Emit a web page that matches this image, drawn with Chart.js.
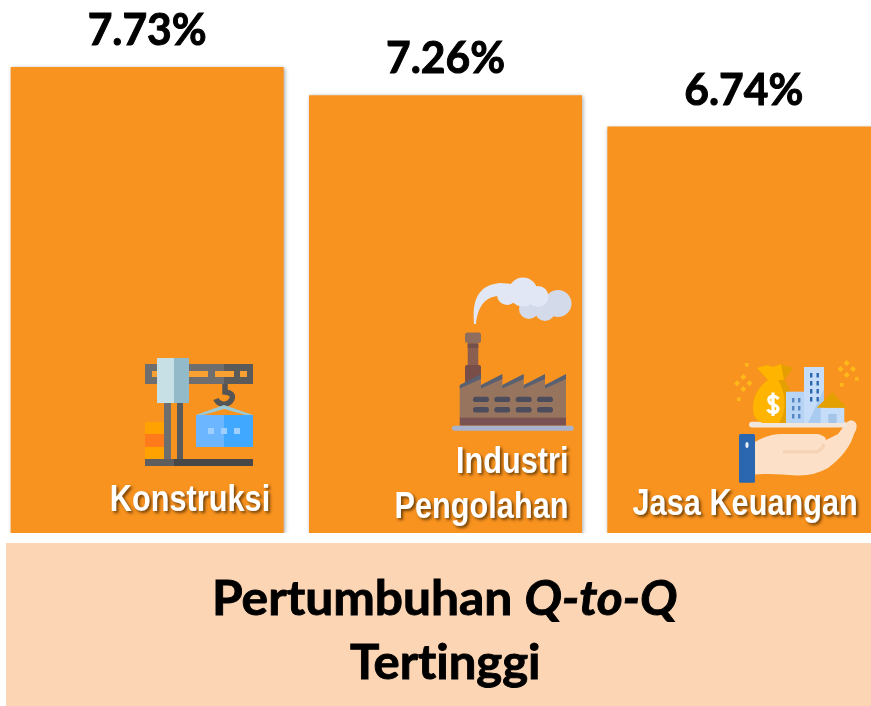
<!DOCTYPE html>
<html>
<head>
<meta charset="utf-8">
<script src="https://cdn.jsdelivr.net/npm/chart.js@4"></script>
<style>
  html, body { margin: 0; padding: 0; background: #fff; width: 871px; height: 706px; overflow: hidden; }
  #chart { position: absolute; left: -2px; top: 0; }
  #icons { position: absolute; left: 0; top: 0; }
  #band { position: absolute; left: 6px; top: 543px; width: 865px; height: 163px; background: #FCD5B5; }
  .line { position: absolute; left: 0; width: 890px; text-align: center; color: #000;
          font: 700 48px/60px Lato, "Open Sans", sans-serif; white-space: nowrap;
          font-variant-ligatures: none; -webkit-text-stroke: 0.9px #000; }
  .line span.fit { display: inline-block; transform-origin: center; }
</style>
</head>
<body>
<canvas id="chart" width="895" height="543"></canvas>

<!-- Decorative icons sitting on the bars -->
<svg id="icons" width="871" height="706" viewBox="0 0 871 706">
  <!-- crane -->
  <g>
    <rect x="145" y="422" width="19" height="13" fill="#FFA200"/>
    <rect x="145" y="434" width="19" height="13" fill="#FF7A1A"/>
    <rect x="145" y="447" width="19" height="12" fill="#FFA200"/>
    <rect x="164" y="400" width="7" height="60" fill="#6E6E6E"/>
    <rect x="177" y="400" width="6" height="60" fill="#5A5A5A"/>
    <rect x="145" y="364" width="79" height="20" fill="#6E6E6E"/>
    <rect x="224" y="364" width="29" height="20" fill="#5A5A5A"/>
    <rect x="152" y="371" width="6" height="6" fill="#F9A033"/>
    <rect x="189" y="371" width="19" height="6" fill="#F9A033"/>
    <rect x="215" y="371" width="19" height="6" fill="#F9A033"/>
    <rect x="240" y="371" width="7" height="6" fill="#F9A033"/>
    <rect x="157" y="358" width="17" height="45" fill="#C6E0E6"/>
    <rect x="174" y="358" width="15" height="45" fill="#93BAC8"/>
    <rect x="145" y="459" width="29" height="7" fill="#5E5E5E"/>
    <rect x="174" y="459" width="79" height="7" fill="#474747"/>
    <path d="M225 384V392Q234 393 232 399Q229 405 222 404Q217.5 403 216 399" fill="none" stroke="#555" stroke-width="5.5"/>
    <path d="M196 415L224 405L253 415L246 415L224 409L203 415Z" fill="#9CC9D6"/>
    <rect x="196" y="415" width="28" height="32" fill="#6CB6FF"/>
    <rect x="224" y="415" width="29" height="32" fill="#40A9FF"/>
    <rect x="208" y="428" width="6" height="6" fill="#9ECFFF"/>
    <rect x="221" y="428" width="6" height="6" fill="#9ECFFF"/>
    <rect x="234" y="428" width="6" height="6" fill="#9ECFFF"/>
  </g>
  <!-- factory -->
  <g>
    <path d="M474 324C472 300 478 285 500 283L512 284L507 297C490 293 478 302 476 324Z" fill="#E1E7F4"/>
    <circle cx="558" cy="303.5" r="13.5" fill="#D3DAEA"/>
    <circle cx="545" cy="311" r="10" fill="#D3DAEA"/>
    <circle cx="529" cy="309" r="10" fill="#D3DAEA"/>
    <circle cx="507" cy="295" r="10" fill="#E1E7F4"/>
    <circle cx="523" cy="292" r="14.5" fill="#E1E7F4"/>
    <circle cx="538" cy="296.5" r="10.5" fill="#E1E7F4"/>
    <rect x="467.7" y="342" width="10.6" height="24" fill="#8A5F50"/>
    <rect x="467.7" y="344" width="10.6" height="4" fill="#74504A"/>
    <rect x="465" y="365" width="16" height="18" rx="2" fill="#7A4E48"/>
    <rect x="465" y="332.5" width="16" height="10.5" rx="2.5" fill="#8F6E5E"/>
    <path d="M459.7 387L481 375.5V387L502.3 375.5V387L523.7 375.5V387L545 375.5V387L566 375.5V418H459.7Z" fill="#96745E"/>
    <path d="M459.7 385L481 374V379L459.7 388.5ZM481 385L502.3 374V379L481 388.5ZM502.3 385L523.7 374V379L502.3 388.5ZM523.7 385L545 374V379L523.7 388.5ZM545 385L566 374V379L545 388.5Z" fill="#5A6070"/>
    <rect x="459.7" y="417.7" width="106.3" height="8" fill="#7A5252"/>
    <rect x="452" y="425.7" width="121.7" height="5" rx="2.5" fill="#A8B2CC"/>
    <g fill="#4C4C5C">
      <rect x="473" y="396.7" width="16" height="5.4" rx="2.7"/><rect x="494.3" y="396.7" width="16" height="5.4" rx="2.7"/>
      <rect x="515.7" y="396.7" width="16" height="5.4" rx="2.7"/><rect x="537" y="396.7" width="16" height="5.4" rx="2.7"/>
      <rect x="473" y="407" width="16" height="5.6" rx="2.8"/><rect x="494.3" y="407" width="16" height="5.6" rx="2.8"/>
      <rect x="515.7" y="407" width="16" height="5.6" rx="2.8"/><rect x="537" y="407" width="16" height="5.6" rx="2.8"/>
    </g>
  </g>
  <!-- hand with money and buildings -->
  <g>
    <path d="M755 442Q768 434 782 434H818Q826 436 826 440L838 434L847 422Q852 418 856 423Q858 428 854 434Q849 452 828 468Q814 476 797 475.5Q772 473 755 474.5Z" fill="#FDE0C8"/>
    <path d="M783 451.7H817Q822 450 824 444" fill="none" stroke="#F5D3B6" stroke-width="3.5"/>
    <rect x="739" y="434" width="16" height="48.7" rx="1.5" fill="#2B66B1"/>
    <ellipse cx="747" cy="445" rx="1.6" ry="3" fill="#E8EEF6"/>
    <rect x="749" y="421.7" width="97.7" height="5.8" rx="2.9" fill="#F0E6DC"/>
    <path d="M757 368L767 365L773 367L781 364L793 368L784 380C792 390 795 408 790 423H763Q752 420 753 406C754 394 760 386 768 380Z" fill="#E3A000"/>
    <path d="M757 368L767 365L773 367L781 364L784 380H768ZM768 380C760 386 754 394 753 406Q752 420 763 423H779C787 412 786 392 778 380Z" fill="#FFB400"/>
    <path d="M778.5 399Q776 396 772.5 396Q768 397 769 401Q770 404 773 404.5Q778 406 778 409Q777 413 772.5 412.5Q769 412 767.5 409.5M773 392.5V416" fill="none" stroke="#fff" stroke-width="3.2"/>
    <rect x="804" y="367" width="20" height="56" fill="#C5DDF8"/>
    <path d="M824 389V423H808Z" fill="#A9CBEF"/>
    <rect x="786" y="391.7" width="18" height="31.3" fill="#B8D4F5"/>
    <g fill="#2B66B1">
      <rect x="810" y="373" width="2.4" height="4.5"/><rect x="816.5" y="373" width="2.4" height="4.5"/>
      <rect x="810" y="381" width="2.4" height="4.5"/><rect x="816.5" y="381" width="2.4" height="4.5"/>
      <rect x="810" y="389" width="2.4" height="4.5"/><rect x="816.5" y="389" width="2.4" height="4.5"/>
      <rect x="810" y="397" width="2.4" height="4.5"/><rect x="816.5" y="397" width="2.4" height="4.5"/>
      <rect x="792" y="398" width="2.4" height="4.5" opacity=".7"/><rect x="798" y="398" width="2.4" height="4.5" opacity=".7"/>
      <rect x="792" y="406" width="2.4" height="4.5" opacity=".7"/><rect x="798" y="406" width="2.4" height="4.5" opacity=".7"/>
      <rect x="792" y="414" width="2.4" height="4.5" opacity=".7"/><rect x="798" y="414" width="2.4" height="4.5" opacity=".7"/>
    </g>
    <rect x="820.7" y="407.7" width="23.6" height="15.3" fill="#C5DDF8"/>
    <rect x="828.3" y="414" width="8.4" height="9" fill="#A5C5E8"/>
    <path d="M816.7 407.7L832.3 392.3L846.7 407.7Z" fill="#E3A000"/>
    <g fill="#FFB81A">
      <rect x="745" y="363" width="3.6" height="3.6"/><rect x="737" y="397.5" width="3.6" height="3.6"/>
      <rect x="855" y="377" width="3.6" height="3.6"/><rect x="840" y="383" width="3.6" height="3.6"/>
      <path d="M743.3 377l3 3-3 3-3-3zM749.5 383.3l3 3-3 3-3-3zM737 383.3l3 3-3 3-3-3zM743.3 389l3 3-3 3-3-3z" transform="translate(0 -3)"/>
      <path d="M846.7 363l3 3-3 3-3-3zM853 369l3 3-3 3-3-3zM840.5 369l3 3-3 3-3-3zM846.7 375l3 3-3 3-3-3z" transform="translate(0 -3)"/>
    </g>
  </g>
</svg>

<div id="band"></div>
<div class="line" style="top:567px"><span class="fit" data-w="466">Pertumbuhan <i>Q-to-Q</i></span></div>
<div class="line" style="top:631px"><span class="fit" data-w="191">Tertinggi</span></div>

<script>
// ── Data ─────────────────────────────────────────────────────────
const categories = ['Konstruksi', 'Industri Pengolahan', 'Jasa Keuangan'];
const values     = [7.73, 7.26, 6.74];
const valueTexts = ['7.73%', '7.26%', '6.74%'];
const labelLines = [['Konstruksi'], ['Industri', 'Pengolahan'], ['Jasa Keuangan']];

// ── Label placement, relative to each bar ────────────────────────
const labelRight = [123, 123, 114];           // right edge of text from bar centre
const labelBase  = [[511], [473, 518], [515]]; // baselines
const LABEL_SQUEEZE = 0.83;                   // the original face is narrower than Liberation Sans

// Draws the percentage above the bars and the sector names inside them.
const barText = {
  id: 'barText',
  beforeDatasetsDraw(chart) {
    const ctx = chart.ctx;
    ctx.save();
    ctx.shadowColor = 'rgba(0,0,0,0.35)';
    ctx.shadowBlur = 4;
    ctx.shadowOffsetX = 1;
    ctx.shadowOffsetY = 1;
  },
  afterDatasetsDraw(chart) {
    const ctx = chart.ctx;
    ctx.restore();
    const bars = chart.getDatasetMeta(0).data;

    bars.forEach((bar, i) => {
      ctx.save();
      ctx.textAlign = 'center';
      ctx.textBaseline = 'alphabetic';
      ctx.fillStyle = '#000';
      ctx.strokeStyle = '#000';
      ctx.lineWidth = 1;
      ctx.font = '700 44px Lato, "Open Sans", sans-serif';
      ctx.fontVariantLigatures = 'none';
      ctx.fillText(valueTexts[i], bar.x, bar.y - 22, 119);
      ctx.strokeText(valueTexts[i], bar.x, bar.y - 22, 119);
      ctx.restore();

      ctx.save();
      ctx.font = '700 37px "Liberation Sans", Arial, sans-serif';
      ctx.textAlign = 'left';
      ctx.fillStyle = '#fff';
      ctx.shadowColor = 'rgba(70,40,0,0.75)';
      ctx.shadowBlur = 3;
      ctx.shadowOffsetX = 2;
      ctx.shadowOffsetY = 2;
      labelLines[i].forEach((line, k) => {
        const w = ctx.measureText(line).width * LABEL_SQUEEZE;
        ctx.fillText(line, bar.x + labelRight[i] - w, labelBase[i][k], w);
      });
      ctx.restore();
    });
  },
};

// ── Chart ────────────────────────────────────────────────────────
new Chart(document.getElementById('chart'), {
  type: 'bar',
  data: {
    labels: categories,
    datasets: [{
      data: values,
      backgroundColor: '#F9931F',
      borderWidth: 0,
      barPercentage: 273 / 298.33,
      categoryPercentage: 1,
    }],
  },
  options: {
    responsive: false,
    animation: false,
    layout: { padding: { bottom: 10 } },
    plugins: { legend: { display: false }, tooltip: { enabled: false } },
    scales: {
      x: { display: false },
      y: { display: false, min: 0, max: 8.84 },
    },
  },
  plugins: [barText],
});

// ── Band title: squeeze each line to the width of the original ───
document.querySelectorAll('.fit').forEach((el) => {
  el.style.transform = 'scaleX(' + (+el.dataset.w / el.offsetWidth) + ')';
});
</script>
</body>
</html>
